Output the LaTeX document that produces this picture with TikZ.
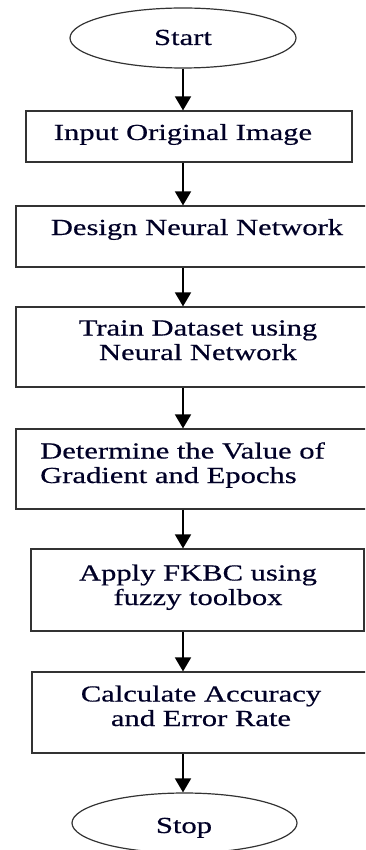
\documentclass[tikz,border=0pt]{standalone}
\usepackage{fontspec}
\newfontfamily\tnr[FakeStretch=1.33,FakeBold=0.5]{Liberation Serif}
\usetikzlibrary{arrows.meta,shapes.geometric}
\tikzset{
  boxnode/.style={draw=black!80, line width=1.2pt, rectangle, inner sep=0pt},
  ovalnode/.style={draw=black!80, line width=1.2pt, ellipse, inner sep=0pt},
  txt/.style={inner sep=0pt, font=\tnr\fontsize{23}{24.5}\selectfont, text=black!85!blue},
  arr/.style={line width=1.8pt, -{Triangle[width=16pt,length=14pt]}}
}
\begin{document}
\begin{tikzpicture}[x=1pt,y=-1pt]
\useasboundingbox (0,0) rectangle (365,850);
\clip (0,0) rectangle (365,850);
\node[ovalnode, minimum width=226pt, minimum height=60pt] (start) at (183,38) {};
\node[boxnode, minimum width=326pt, minimum height=51pt] (b1) at (189,136.5) {};
\node[boxnode, minimum width=364pt, minimum height=61pt] (b2) at (198,236.5) {};
\node[boxnode, minimum width=364pt, minimum height=80pt] (b3) at (198,347) {};
\node[boxnode, minimum width=364pt, minimum height=80pt] (b4) at (198,469) {};
\node[boxnode, minimum width=333pt, minimum height=82pt] (b5) at (197.5,590) {};
\node[boxnode, minimum width=338pt, minimum height=81pt] (b6) at (201,712.5) {};
\node[ovalnode, minimum width=225pt, minimum height=60pt] (stop) at (184.5,823) {};

\node[txt, anchor=base] (t0) at (183,45) {Start};
\node[txt, anchor=base] (t1) at (183,140) {Input Original Image};
\node[txt, anchor=base] (t2) at (197,235) {Design Neural Network};
\node[txt, anchor=base, align=center] (t3) at (198,360) {Train Dataset using\\Neural Network};
\node[txt, anchor=base west, align=left] (t4) at (40,483) {Determine the Value of\\Gradient and Epochs};
\node[txt, anchor=base, align=center] (t5) at (198,605) {Apply FKBC using\\fuzzy toolbox};
\node[txt, anchor=base, align=center] (t6) at (201,726) {Calculate Accuracy\\and Error Rate};
\node[txt, anchor=base] (t7) at (184,833) {Stop};

\draw[arr] (start.south) -- (start.south |- b1.north);
\draw[arr] (b1.south -| start) -- (b2.north -| start);
\draw[arr] (b2.south -| start) -- (b3.north -| start);
\draw[arr] (b3.south -| start) -- (b4.north -| start);
\draw[arr] (b4.south -| start) -- (b5.north -| start);
\draw[arr] (b5.south -| start) -- (b6.north -| start);
\draw[arr] (b6.south -| start) -- (stop.north -| start);
\end{tikzpicture}
\end{document}
